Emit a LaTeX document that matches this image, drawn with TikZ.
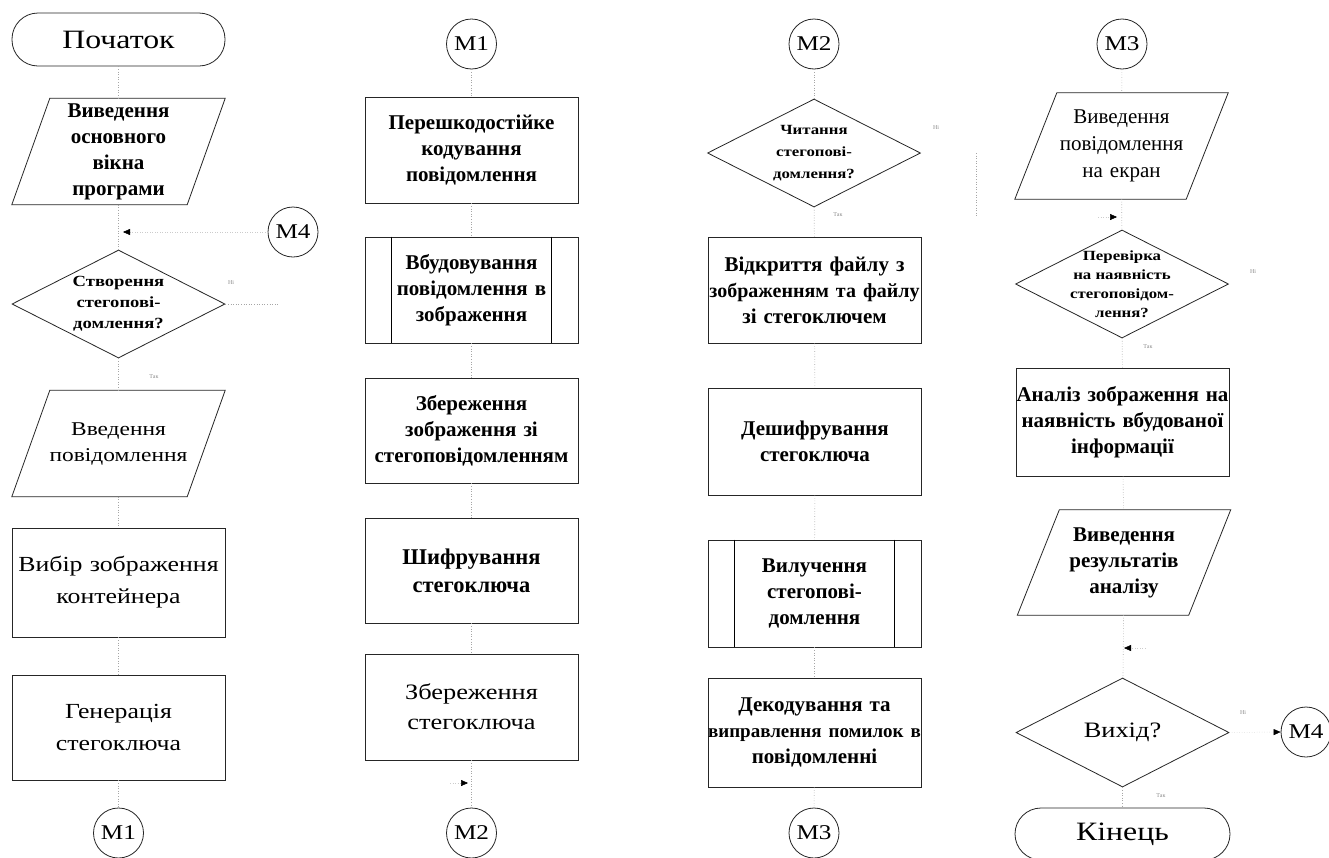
\documentclass[tikz,border=0pt]{standalone}
\usepackage{fontspec}
\setmainfont{Liberation Serif}
\newfontfamily\widefont[FakeStretch=1.2]{Liberation Serif}
\usetikzlibrary{shapes.geometric,arrows.meta,calc}
\newcommand{\fitline}[2]{\makebox[213pt][c]{\fontsize{#1}{26}\selectfont #2}}
\begin{document}
\begin{tikzpicture}[x=1pt,y=-1pt,
  outline/.style={draw=black!85, line width=0.8pt},
  boxtext/.style={inner sep=0pt, align=center, text width=213pt, minimum height=106pt, font=\fontsize{21}{26}\selectfont\bfseries},
  box/.style={boxtext, outline},
  rbox/.style={box, font=\widefont\fontsize{21.5}{32}\selectfont},
  para/.style={boxtext},
  term/.style={outline, rounded corners=26pt, minimum width=213pt, minimum height=53pt, inner sep=0pt, font=\widefont\fontsize{26.5}{30}\selectfont},
  decision/.style={outline, diamond, aspect=2, minimum width=213pt, minimum height=108pt, inner sep=0pt},
  dlabel/.style={inner sep=0pt, align=center, font=\widefont\fontsize{15.5}{21}\selectfont\bfseries},
  conn/.style={circle, outline, minimum size=50pt, inner sep=0pt, font=\widefont\fontsize{21}{24}\selectfont},
  flow/.style={draw=black!35, dotted, line width=0.6pt},
  arrowflow/.style={draw=black!20, dotted, line width=0.5pt, -{Triangle[length=7pt,width=6pt,color=black,fill=black]}},
  branchlbl/.style={text=black!45, font=\fontsize{6}{7}\selectfont},
  ppline/.style={draw=black, line width=1.4pt}
]
\useasboundingbox (0,0) rectangle (1329,857);
\fill[white] (0,0) rectangle (1329,857);

% Column 1
\node[term] (start) at (118.5,39.5) {Початок};
\node[para] (p1) at (118.5,151.5) {Виведення\\основного\\вікна\\програми};
\node[decision, label={[dlabel]center:{Створення\\стегопові-\\домлення?}}] (d1) at (118.5,304) {};
\node[para, font=\widefont\fontsize{19.5}{26}\selectfont] (p2) at (118.5,443.5) {Введення\\повідомлення};
\node[rbox, minimum height=109pt] (b1) at (118.5,582.5) {Вибір зображення\\контейнера};
\node[rbox, minimum height=105pt] (b2) at (118.5,727.5) {Генерація\\стегоключа};
\node[conn] (m1b) at (118.5,833) {M1};
\node[conn] (m4a) at (293,232) {M4};

% Column 2
\node[conn] (m1t) at (471.5,44) {M1};
\node[box] (b3) at (471.5,150) {Перешкодостійке\\кодування\\повідомлення};
\node[box] (pp1) at (471.5,290) {Вбудовування\\повідомлення в\\зображення};
\node[box, minimum height=105pt] (b4) at (471.5,430.5) {Збереження\\зображення зі\\стегоповідомленням};
\node[box, minimum height=105pt, font=\fontsize{22.5}{28}\selectfont\bfseries] (b5) at (471.5,570.5) {Шифрування\\стегоключа};
\node[box, font=\widefont\fontsize{22}{30}\selectfont] (b6) at (471.5,707) {Збереження\\стегоключа};
\node[conn] (m2b) at (471.5,833) {M2};

% Column 3
\node[conn] (m2t) at (814,44) {M2};
\node[decision, label={[dlabel, font=\widefont\fontsize{14}{22}\selectfont\bfseries]center:{Читання\\стегопові-\\домлення?}}] (d2) at (814,153) {};
\node[box] (b7) at (814.5,290) {Відкриття файлу з\\\fitline{20}{зображенням та файлу}\\зі стегоключем};
\node[box, minimum height=107pt] (b8) at (815,441.5) {Дешифрування\\стегоключа};
\node[box, minimum height=107pt] (pp2) at (814.5,593.5) {Вилучення\\стегопові-\\домлення};
\node[box, minimum height=109pt] (b9) at (814.5,732.5) {Декодування та\\\fitline{19}{виправлення помилок в}\\повідомленні};
\node[conn] (m3b) at (814,833) {M3};

% Column 4
\node[conn] (m3t) at (1122,44) {M3};
\node[para, font=\fontsize{21}{27}\selectfont] (p3) at (1121.5,146) {Виведення\\повідомлення\\на екран};
\node[decision, label={[dlabel, font=\widefont\fontsize{14}{19}\selectfont\bfseries]center:{Перевірка\\на наявність\\стегоповідом-\\лення?}}] (d3) at (1122,284) {};
\node[box, minimum height=108pt] (b10) at (1122.5,422) {\fitline{21}{Аналіз зображення на}\\наявність вбудованої\\інформації};
\node[para, minimum height=105pt] (p4) at (1124,562.5) {Виведення\\результатів\\аналізу};
\node[decision, minimum height=109pt, label={[dlabel, font=\widefont\fontsize{22}{24}\selectfont]center:{Вихід?}}] (d4) at (1122.5,732.5) {};
\node[conn] (m4b) at (1306,732) {M4};
\node[term, minimum width=215pt, minimum height=52pt] (end) at (1122.5,834) {Кінець};

% parallelogram outlines
\foreach \n in {p1,p2} {
  \draw[outline] ([xshift=38pt]\n.north west) -- (\n.north east) -- ([xshift=-38pt]\n.south east) -- (\n.south west) -- cycle;
}
\foreach \n in {p3,p4} {
  \draw[outline] ([xshift=42pt]\n.north west) -- (\n.north east) -- ([xshift=-42pt]\n.south east) -- (\n.south west) -- cycle;
}
% predefined-process inner lines
\foreach \n in {pp1,pp2} {
  \draw[ppline] ([xshift=27pt]\n.north west) -- ([xshift=27pt]\n.south west);
  \draw[ppline, line width=1pt] ([xshift=-27pt]\n.north east) -- ([xshift=-27pt]\n.south east);
}

% connectors
\draw[flow] (start) -- (p1);
\draw[flow] (p1) -- (d1);
\draw[flow] (d1) -- (p2);
\draw[flow] (p2) -- (b1);
\draw[flow] (b1) -- (b2);
\draw[flow] (b2) -- (m1b);
\coordinate (j1) at (123,232);
\draw[arrowflow] (m4a) -- (j1);
\coordinate (d1r) at (278,304);
\draw[flow] (d1.east) -- (d1r);

\draw[flow] (m1t) -- (b3);
\draw[flow] (b3) -- (pp1);
\draw[flow] (pp1) -- (b4);
\draw[flow] (b4) -- (b5);
\draw[flow] (b5) -- (b6);
\draw[flow] (b6) -- (m2b);
\coordinate (a2s) at (450,783);
\coordinate (a2e) at (468,783);
\draw[arrowflow] (a2s) -- (a2e);

\draw[flow] (m2t) -- (d2);
\draw[flow] (d2) -- (b7);
\draw[flow] (b7) -- (b8);
\draw[flow] (b8) -- (pp2);
\draw[flow] (pp2) -- (b9);
\draw[flow] (b9) -- (m3b);
\coordinate (r1) at (976,153);
\coordinate (r2) at (976,217);
\draw[flow] (r1) -- (r2);

\draw[flow] (m3t) -- (p3);
\draw[flow] (p3) -- (d3);
\draw[flow] (d3) -- (b10);
\draw[flow] (b10) -- (p4);
\draw[flow] (p4) -- (d4);
\draw[flow] (d4) -- (end);
\draw[arrowflow] (d4.east) -- (m4b.west);
\coordinate (a4s) at (1098,217);
\coordinate (a4e) at (1117,217);
\draw[arrowflow] (a4s) -- (a4e);
\coordinate (a5s) at (1145,648);
\coordinate (a5e) at (1124,648);
\draw[arrowflow] (a5s) -- (a5e);

% branch labels
\node[branchlbl] (n1) at (231,283) {Ні};
\node[branchlbl] (t1) at (154,377) {Так};
\node[branchlbl] (n2) at (936,128) {Ні};
\node[branchlbl] (t2) at (838,215) {Так};
\node[branchlbl] (n3) at (1253,272) {Ні};
\node[branchlbl] (t3) at (1148,347) {Так};
\node[branchlbl] (n4) at (1243,713) {Ні};
\node[branchlbl] (t4) at (1161,796) {Так};
\end{tikzpicture}
\end{document}
